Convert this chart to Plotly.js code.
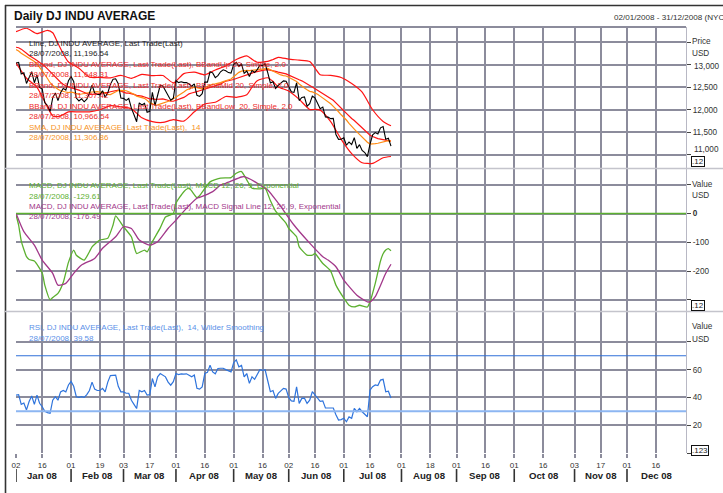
<!DOCTYPE html>
<html><head><meta charset="utf-8">
<script src="https://cdn.plot.ly/plotly-3.0.1.min.js"></script>
<style>html,body{margin:0;padding:0;background:#fff;}#chart{width:723px;height:493px;}</style>
</head><body><div id="chart"></div>
<script>
// ---------- DATA ----------
const holidays = ['2008-01-21','2008-02-18','2008-03-21','2008-05-26','2008-07-04'];

// Daily DJ INDU close (02/01/2008 .. 28/07/2008)
const price = [13044,13057,12800,12827,12589,12735,12853,12606,12778,12501,12466,12159,12099,11971,12270,12379,12207,12384,12480,12443,
12650,12743,12635,12265,12200,12247,12182,12240,12373,12552,12377,12348,12337,12427,12284,12381,12570,12685,12694,12582,
12266,12259,12214,12255,12040,11894,11740,12157,12110,12146,11951,11972,12393,12100,12361,12549,12533,12423,12302,12216,
12263,12654,12609,12626,12609,12612,12576,12527,12582,12325,12302,12362,12619,12620,12849,12825,12720,12763,12849,12892,
12872,12831,12820,13010,13058,12970,13021,12814,12867,12746,12876,12832,12898,12993,12987,13028,12829,12601,12626,12480,
12548,12591,12646,12638,12504,12403,12390,12604,12210,12280,12290,12084,12142,12307,12269,12160,12029,12063,11843,11842,
11807,11812,11453,11347,11350,11382,11216,11289,11232,11384,11147,11229,11101,11055,10963,11239,11447,11497,11467,11603,
11632,11349,11371,11196.54];

// BBandMid 20 (daily)
const bbMid = [13394,13384,13352,13312,13260,13211,13182,13138,13101,13059,13024,12971,12915,12851,12792,12734,12667,12618,12574,12532,
12513,12497,12489,12461,12441,12417,12383,12365,12345,12347,12343,12352,12364,12387,12388,12388,12406,12421,12432,12439,
12419,12395,12374,12374,12366,12348,12326,12322,12309,12288,12267,12248,12251,12235,12239,12247,12245,12232,12212,12194,
12194,12214,12233,12252,12280,12316,12358,12377,12400,12409,12427,12446,12458,12484,12508,12522,12531,12548,12575,12609,
12640,12649,12659,12678,12701,12719,12741,12755,12770,12791,12819,12843,12857,12875,12882,12892,12898,12890,12879,12858,
12842,12830,12821,12803,12775,12746,12715,12704,12672,12648,12619,12582,12544,12509,12474,12430,12390,12363,12324,12292,
12255,12216,12157,12092,12034,11983,11925,11859,11810,11765,11708,11665,11613,11551,11485,11439,11410,11382,11363,11351,
11342,11319,11315,11307.42];

// SMA 14 (daily)
const sma14 = [13341,13311,13260,13223,13182,13146,13121,13075,13027,12952,12875,12789,12699,12606,12551,12502,12460,12428,12421,12400,
12385,12395,12385,12368,12349,12355,12361,12380,12388,12400,12412,12410,12399,12398,12372,12346,12342,12372,12407,12431,
12437,12438,12427,12406,12382,12349,12307,12287,12275,12258,12214,12163,12141,12107,12114,12134,12157,12169,12188,12211,
12248,12284,12319,12354,12401,12446,12460,12490,12506,12490,12473,12469,12492,12520,12562,12575,12582,12592,12609,12629,
12651,12672,12689,12738,12792,12836,12864,12878,12879,12874,12885,12890,12893,12901,12909,12923,12924,12894,12863,12828,
12795,12779,12763,12755,12729,12698,12662,12634,12578,12525,12487,12450,12415,12403,12383,12352,12308,12267,12220,12180,
12138,12081,12027,11961,11893,11843,11777,11704,11630,11575,11512,11452,11399,11343,11283,11242,11242,11252,11261,11276,
11306,11310,11320,11306.86];

// Bollinger up / low (read at these dates)
const bandDates = ['2008-01-02','2008-01-08','2008-01-14','2008-01-18','2008-01-23','2008-01-25','2008-01-29','2008-01-31','2008-02-06','2008-02-12',
'2008-02-19','2008-02-25','2008-02-29','2008-03-06','2008-03-12','2008-03-18','2008-03-25','2008-03-31','2008-04-04','2008-04-10',
'2008-04-16','2008-04-22','2008-04-28','2008-05-02','2008-05-08','2008-05-12','2008-05-14','2008-05-20','2008-05-22','2008-05-27',
'2008-06-02','2008-06-06','2008-06-12','2008-06-16','2008-06-18','2008-06-24','2008-06-30','2008-07-07','2008-07-11','2008-07-17',
'2008-07-23','2008-07-28'];
const bbUp = [13738,13816,13698,13770,13716,13480,13250,13066,12926,12730,12723,12713,12770,12704,12791,12762,12767,12602,12809,12841,
12781,12890,12979,13120,13202,13129,13061,13079,13123,13170,13130,13107,13076,12933,12784,12770,12721,12588,12397,12005,
11746,11648.31];
const bbLow = [13049,12705,12505,12060,11869,11853,11897,11959,11957,11960,12006,12098,12069,12028,11826,11740,11724,11786,11752,11959,
12134,12172,12300,12281,12337,12509,12652,12716,12634,12513,12420,12236,12011,12014,11997,11741,11348,11032,10829,10815,
10938,10966.54];

// MACD 12,26,9
const macdDates = ['2008-01-02','2008-01-03','2008-01-04','2008-01-07','2008-01-08','2008-01-09','2008-01-11','2008-01-16','2008-01-17','2008-01-22',
'2008-01-23','2008-01-25','2008-01-29','2008-01-31','2008-02-04','2008-02-05','2008-02-08','2008-02-12','2008-02-13','2008-02-19',
'2008-02-22','2008-02-26','2008-02-27','2008-03-03','2008-03-06','2008-03-10','2008-03-13','2008-03-14','2008-03-18','2008-03-24',
'2008-03-26','2008-03-31','2008-04-01','2008-04-04','2008-04-08','2008-04-11','2008-04-14','2008-04-18','2008-04-24','2008-04-30',
'2008-05-02','2008-05-06','2008-05-08','2008-05-12','2008-05-15','2008-05-19','2008-05-21','2008-05-23','2008-05-29','2008-05-30',
'2008-06-02','2008-06-05','2008-06-06','2008-06-11','2008-06-13','2008-06-16','2008-06-18','2008-06-19','2008-06-24','2008-06-26',
'2008-07-01','2008-07-03','2008-07-08','2008-07-10','2008-07-15','2008-07-16','2008-07-18','2008-07-22','2008-07-23','2008-07-24',
'2008-07-25','2008-07-28'];
const macd = [-5,-40,-95,-125,-150,-160,-165,-207,-250,-300,
-292,-278,-240,-170,-127,-145,-162,-133,-116,-92,
-86,-40,-8,-46,-81,-139,-127,-133,-98,-50,
-12,0,36,76,88,55,62,110,123,125,
140,146,117,88,86,88,45,8,-23,-34,
-52,-81,-116,-145,-145,-139,-162,-174,-200,-249,
-294,-319,-325,-319,-325,-307,-243,-165,-140,-127,
-122,-129.61];
const signalDates = ['2008-01-02','2008-01-07','2008-01-11','2008-01-16','2008-01-23','2008-01-25','2008-01-30','2008-02-04','2008-02-07','2008-02-14',
'2008-02-20','2008-02-27','2008-03-03','2008-03-06','2008-03-11','2008-03-17','2008-03-20','2008-03-27','2008-04-01','2008-04-07',
'2008-04-11','2008-04-14','2008-04-21','2008-04-24','2008-04-28','2008-05-06','2008-05-07','2008-05-13','2008-05-15','2008-05-20',
'2008-05-27','2008-05-28','2008-06-04','2008-06-12','2008-06-19','2008-06-23','2008-06-26','2008-07-01','2008-07-02','2008-07-09',
'2008-07-15','2008-07-16','2008-07-18','2008-07-22','2008-07-24','2008-07-28'];
const signal = [1,-63,-110,-162,-208,-249,-243,-208,-179,-156,
-121,-81,-46,-52,-92,-110,-98,-52,-23,18,
53,56,76,99,105,127,128,111,99,82,
36,24,-40,-103,-150,-162,-185,-232,-243,-284,
-307,-307,-289,-250,-208,-176.49];

// RSI 14 Wilder (daily)
const rsi = [41.7,42,35,36,31,37,41,35,41.7,35.8,33.3,30,29,28.6,38,40.5,38,44,45,44,
49,51.5,48,40.5,40,40.5,40,42,45,51,46,45,45,46.5,44,51,55.7,56,56,48,
44,44,43,43,38,35,32,45,44,45,41.7,42,53.6,47.6,54.8,57.2,56,54.8,51,48.8,
51.3,57.2,56.5,57,56.8,57,56,54.8,56.1,46.5,46,47.6,57.2,58,63.1,58.4,57,60.8,61,61,
60,59,58.4,65,67,62,63,54.8,57.2,50.1,54.8,53,57,60,59.5,59.9,52,44.1,45,39.3,
42.9,44.5,46.5,46,40,37.5,37.2,47.6,35.7,39.3,39.5,35.7,38,44.1,41.7,39,37.2,37.5,32.4,32.4,
32.4,32.4,27.6,23.7,24,25,22.5,26,25,32.1,29.7,32.1,29.7,28,26.1,45.3,47.7,49,48.5,52.5,
53,44.1,44.5,39.58];

// Axis labels
const tickDates = ['2008-01-02','2008-01-16','2008-02-01','2008-02-19','2008-03-03','2008-03-17','2008-04-01','2008-04-16','2008-05-01','2008-05-16',
'2008-06-02','2008-06-16','2008-07-01','2008-07-16','2008-08-01','2008-08-18','2008-09-01','2008-09-16','2008-10-01','2008-10-16',
'2008-11-03','2008-11-17','2008-12-01','2008-12-16'];
const tickLabels = ['02','16','01','19','03','17','01','16','01','16','02','16','01','16','01','18','01','16','01','16','03','17','01','16'];
const monthNames = ['Jan 08','Feb 08','Mar 08','Apr 08','May 08','Jun 08','Jul 08','Aug 08','Sep 08','Oct 08','Nov 08','Dec 08'];
const monthStarts = ['2008-01-02','2008-02-01','2008-03-03','2008-04-01','2008-05-01','2008-06-02','2008-07-01','2008-08-01','2008-09-01','2008-10-01','2008-11-03','2008-12-01'];
const monthMids = ['2008-01-16','2008-02-15','2008-03-17','2008-04-16','2008-05-15 12:00','2008-06-16 12:00','2008-07-17','2008-08-15 12:00','2008-09-16','2008-10-16 12:00','2008-11-17','2008-12-16 06:00'];
const priceTicks = [11000,11500,12000,12500,13000,13500];
const priceTickText = ['','11,500','12,000','12,500','',''];
const priceShiftedLabels = [['11,000',11000,-5.5],['13,000',13000,2]];
const macdTicks = [-300,-200,-100,0,100];
const macdTickText = ['','-200','-100','<b>0</b>',''];
const rsiTicks = [0,20,40,60,80];
const rsiTickText = ['','20','40','60',''];

const priceLegend = [
 ['Line, DJ INDU AVERAGE, Last Trade(Last)','#222'],
 ['28/07/2008, 11,196.54','#222'],
 ['BBand, DJ INDU AVERAGE, Last Trade(Last), BBandUp 20, Simple, 2.0','#ee2a2a'],
 ['28/07/2008, 11,648.31','#ee2a2a'],
 ['BBand, DJ INDU AVERAGE, Last Trade(Last), BBandMid 20, Simple, 2.0','#ee2a2a'],
 ['28/07/2008, 11,307.42','#ee2a2a'],
 ['BBand, DJ INDU AVERAGE, Last Trade(Last), BBandLow  20, Simple, 2.0','#ee2a2a'],
 ['28/07/2008, 10,966.54','#ee2a2a'],
 ['SMA, DJ INDU AVERAGE, Last Trade(Last),  14','#f7931e'],
 ['28/07/2008, 11,306.86','#f7931e']];
const macdLegend = [
 ['MACD, DJ INDU AVERAGE, Last Trade(Last), MACD 12, 26, 9, Exponential','#5cb030'],
 ['28/07/2008, -129.61','#5cb030'],
 ['MACD, DJ INDU AVERAGE, Last Trade(Last), MACD Signal Line 12, 26, 9, Exponential','#a2388a'],
 ['28/07/2008, -176.49','#a2388a']];
const rsiLegend = [
 ['RSI, DJ INDU AVERAGE, Last Trade(Last),  14, Wilder Smoothing','#5a90e8'],
 ['28/07/2008, 39.58','#5a90e8']];

// ---------- BUILD ----------
function tradingDays(n){
  const out=[]; const d=new Date(Date.UTC(2008,0,2));
  while(out.length<n){
    const wd=d.getUTCDay(); const s=d.toISOString().slice(0,10);
    if(wd!==0&&wd!==6&&holidays.indexOf(s)<0) out.push(s);
    d.setUTCDate(d.getUTCDate()+1);
  }
  return out;
}
const days = tradingDays(price.length);

const W=723,H=493,L=16,R=37,T=27,B=40, PW=W-L-R, PH=H-T-B;
const px = x => (x-L)/PW;
const py = y => (T+PH-y)/PH;
const FONT = 'Liberation Sans, Arial, sans-serif';
const GRID = '#8c8c9c';
const markX = '2009-01-01 12:00';
const last = a => a[a.length-1];

const traces = [
 {x:bandDates,y:bbUp,type:'scatter',mode:'lines',line:{color:'#ff1414',width:1.2,shape:'spline',smoothing:0.6},yaxis:'y'},
 {x:bandDates,y:bbLow,type:'scatter',mode:'lines',line:{color:'#ff1414',width:1.2,shape:'spline',smoothing:0.6},yaxis:'y'},
 {x:days,y:bbMid,type:'scatter',mode:'lines',line:{color:'#ff1414',width:1.2},yaxis:'y'},
 {x:days,y:sma14,type:'scatter',mode:'lines',line:{color:'#ff8c14',width:1.2},yaxis:'y'},
 {x:days,y:price,type:'scatter',mode:'lines',line:{color:'#000',width:1.1},yaxis:'y'},
 {x:[markX,markX,markX],y:[last(bbUp),last(sma14),last(price)],type:'scatter',mode:'markers',cliponaxis:false,
  marker:{symbol:'diamond',size:7,color:['#ff0000','#ff8c14','#000000']},yaxis:'y'},
 {x:macdDates,y:macd,type:'scatter',mode:'lines',line:{color:'#5cb030',width:1.3,shape:'spline',smoothing:0.5},yaxis:'y2'},
 {x:signalDates,y:signal,type:'scatter',mode:'lines',line:{color:'#a2388a',width:1.3,shape:'spline',smoothing:0.6},yaxis:'y2'},
 {x:[markX,markX],y:[last(macd),last(signal)],type:'scatter',mode:'markers',cliponaxis:false,
  marker:{symbol:'diamond',size:7,color:['#5cb030','#a2388a']},yaxis:'y2'},
 {x:days,y:rsi,type:'scatter',mode:'lines',line:{color:'#2f74dc',width:1.2},yaxis:'y3'},
 {x:[markX],y:[last(rsi)],type:'scatter',mode:'markers',cliponaxis:false,
  marker:{symbol:'diamond',size:7,color:'#2f74dc'},yaxis:'y3'}
];

function yax(domain, range, tv, tt){
  return {domain:domain, range:range, side:'right', anchor:'x', tickvals:tv, ticktext:tt,
    showgrid:true, gridcolor:GRID, gridwidth:2, zeroline:false, showline:true, linecolor:'#b8b8c4', linewidth:1,
    ticks:'outside', ticklen:4, tickcolor:'#444', tickwidth:1,
    tickfont:{family:FONT,size:8.2,color:'#333'}, fixedrange:true};
}
const priceRange=[10711,13844];

const annotations = [];
function txt(x,y,text,size,color,opts){
  annotations.push(Object.assign({xref:'paper',yref:'paper',x:px(x),y:py(y),text:text,showarrow:false,
    xanchor:'left',yanchor:'middle',font:{family:FONT,size:size,color:color}},opts||{}));
}
txt(11.5,16.5,'<b>Daily DJ INDU AVERAGE</b>',12,'#111');
txt(611.5,17.5,'02/01/2008 - 31/12/2008 (NYC',8.1,'#333');
priceLegend.forEach((r,i)=>txt(26.5,43.3+i*10.5,r[0],8,r[1]));
macdLegend.forEach((r,i)=>txt(27,185.7+i*10.4,r[0],8,r[1]));
rsiLegend.forEach((r,i)=>txt(27,327.7+i*10.6,r[0],8,r[1]));
txt(689.5,41.5,'Price',8.2,'#333'); txt(689.5,53,'USD',8.2,'#333');
txt(689.5,184,'Value',8.2,'#333'); txt(689.5,196,'USD',8.2,'#333');
txt(689.5,326,'Value',8.2,'#333'); txt(689.5,339,'USD',8.2,'#333');
priceShiftedLabels.forEach(s=>annotations.push({xref:'paper',yref:'y',x:1,y:s[1],yshift:-s[2],xshift:5.5,text:s[0],showarrow:false,
  xanchor:'left',yanchor:'middle',font:{family:FONT,size:8.2,color:'#333'}}));
[[161.5,'.12'],[305,'.12'],[450,'.123']].forEach(b=>txt(690.5,b[0],b[1],8,'#222',{bordercolor:'#111',borderwidth:1,borderpad:0,bgcolor:'#fff'}));
monthNames.forEach((m,i)=>annotations.push({xref:'x',yref:'paper',x:monthMids[i],y:py(475),text:'<b>'+m+'</b>',showarrow:false,
  xanchor:'center',yanchor:'middle',font:{family:FONT,size:9.6,color:'#222'}}));

const shapes = [
 {type:'line',xref:'paper',yref:'paper',x0:px(5),x1:px(723),y0:py(5.5),y1:py(5.5),line:{color:'#333',width:1.6}},
 {type:'line',xref:'paper',yref:'paper',x0:px(5.5),x1:px(5.5),y0:py(5),y1:py(493),line:{color:'#333',width:1.6}},
 {type:'line',xref:'paper',yref:'paper',x0:0,x1:1,y0:1,y1:1,line:{color:GRID,width:2}},
 {type:'line',xref:'paper',yref:'paper',x0:px(5),x1:px(723),y0:py(168.5),y1:py(168.5),line:{color:'#c4c4cc',width:1.5}},
 {type:'line',xref:'paper',yref:'paper',x0:px(5),x1:px(723),y0:py(311.5),y1:py(311.5),line:{color:'#c4c4cc',width:1.5}},
 {type:'line',xref:'paper',yref:'y2',x0:0,x1:1,y0:0,y1:0,line:{color:'#5cb030',width:1.5}},
 {type:'line',xref:'paper',yref:'y3',x0:0,x1:1,y0:70,y1:70,line:{color:'#2f6fd8',width:1.2}},
 {type:'line',xref:'paper',yref:'y3',x0:0,x1:1,y0:30,y1:30,line:{color:'#8db6f2',width:2}}
];
monthStarts.forEach(d=>shapes.push({type:'line',xref:'x',yref:'paper',x0:d,x1:d,y0:py(469),y1:py(482),line:{color:'#333',width:1.6}}));

const layout = {
  width:W, height:H, margin:{l:L,r:R,t:T,b:B,pad:0}, paper_bgcolor:'#fff', plot_bgcolor:'#fff',
  showlegend:false, hovermode:false,
  xaxis:{type:'date', anchor:'y3', range:['2008-01-02','2008-12-31 12:00'],
    rangebreaks:[{bounds:['sat','mon']},{values:holidays}],
    tickvals:tickDates, ticktext:tickLabels, showgrid:true, gridcolor:GRID, gridwidth:2,
    ticks:'outside', ticklen:4, tickcolor:GRID, tickwidth:2, showline:false, zeroline:false,
    tickfont:{family:FONT,size:8,color:'#333'}, fixedrange:true},
  yaxis: yax([py(168),1],priceRange,priceTicks,priceTickText),
  yaxis2: yax([py(311),py(168)],[-339,158.3],macdTicks,macdTickText),
  yaxis3: yax([0,py(311)],[0,102.2],rsiTicks,rsiTickText),
  annotations:annotations, shapes:shapes
};
Plotly.newPlot('chart',traces,layout,{staticPlot:true,displayModeBar:false});
</script></body></html>
